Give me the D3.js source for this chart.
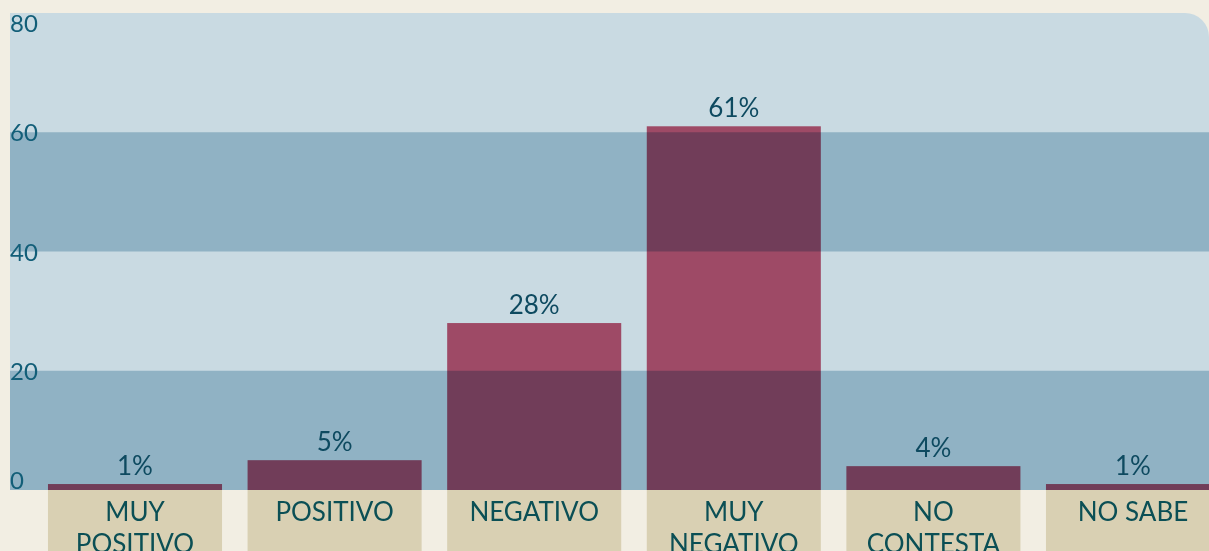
<!DOCTYPE html>
<meta charset="utf-8">
<head>
<style>
  body { margin: 0; background: #f2eee3; overflow: hidden; }
  svg { display: block; font-family: Lato, "Open Sans", sans-serif; }
</style>
</head>
<body>
<div id="chart"></div>
<script src="https://d3js.org/d3.v7.min.js"></script>
<script>
// data
var categories = ["MUY POSITIVO", "POSITIVO", "NEGATIVO", "MUY NEGATIVO", "NO CONTESTA", "NO SABE"];
var values = [1, 5, 28, 61, 4, 1];
var ticks = [0, 20, 40, 60, 80];
var darkBands = [[0, 20], [40, 60]];

var width = 1209, height = 551;
var plot = {left: 10, top: 13, bottom: 490, right: 1209};

var svg = d3.select("#chart").append("svg")
    .attr("width", width)
    .attr("height", height);

var x = d3.scaleBand()
    .domain(categories)
    .range([35.2, 1232.8])
    .paddingInner(0.128)
    .paddingOuter(0.064);

var y = d3.scaleLinear()
    .domain([0, 80])
    .range([plot.bottom, plot.top]);

// plot background, top right corner rounded
var r = 24;
svg.append("path")
    .attr("d", "M" + plot.left + "," + y(80) +
        " H" + (plot.right - r) +
        " A" + r + "," + r + " 0 0 1 " + plot.right + "," + (y(80) + r) +
        " V" + y(0) + " H" + plot.left + " Z")
    .attr("fill", "#c9dae2");

// category boxes under the axis
svg.selectAll("rect.catbox")
    .data(categories)
    .join("rect")
    .attr("class", "catbox")
    .attr("x", d => x(d))
    .attr("y", y(0))
    .attr("width", x.bandwidth())
    .attr("height", height - y(0) + 40)
    .attr("fill", "#d9d0b3");

var data = categories.map((c, i) => ({cat: c, v: values[i]}));

svg.selectAll("rect.bar")
    .data(data)
    .join("rect")
    .attr("class", "bar")
    .attr("x", d => x(d.cat))
    .attr("y", d => y(d.v))
    .attr("width", x.bandwidth())
    .attr("height", d => y(0) - y(d.v))
    .attr("fill", "#9e4a66");

// darker bands, multiplied over both background and bars
svg.selectAll("rect.band")
    .data(darkBands)
    .join("rect")
    .attr("class", "band")
    .attr("x", plot.left)
    .attr("y", d => y(d[1]))
    .attr("width", plot.right - plot.left)
    .attr("height", d => y(d[0]) - y(d[1]))
    .attr("fill", "#b7d1dd")
    .style("mix-blend-mode", "multiply");

// y tick labels, kept inside the plot
svg.selectAll("text.tick")
    .data(ticks)
    .join("text")
    .attr("class", "tick")
    .attr("x", plot.left)
    .attr("y", d => Math.min(plot.bottom - 1, Math.max(plot.top + 19, y(d) + 9)))
    .attr("font-size", 24)
    .attr("fill", "#125e78")
    .text(d => d);

// value labels
svg.selectAll("text.val")
    .data(data)
    .join("text")
    .attr("class", "val")
    .attr("x", d => x(d.cat) + x.bandwidth() / 2)
    .attr("y", d => y(d.v) - 9)
    .attr("text-anchor", "middle")
    .attr("font-size", 26)
    .attr("fill", "#0e4a60")
    .text(d => d.v + "%");

// category labels, wrapped
var cat = svg.selectAll("text.cat")
    .data(categories)
    .join("text")
    .attr("class", "cat")
    .attr("x", d => x(d) + x.bandwidth() / 2)
    .attr("y", 521)
    .attr("text-anchor", "middle")
    .attr("font-size", 26)
    .attr("fill", "#0b4f55")
    .text(d => d);

cat.each(function(d) {
    var t = d3.select(this);
    if (this.getComputedTextLength() > 150) {
        var words = d.split(" ");
        var cx = t.attr("x");
        t.text(null);
        words.forEach(function(w, i) {
            t.append("tspan").attr("x", cx).attr("dy", i ? 32 : 0).text(w);
        });
    }
});
</script>
</body>
